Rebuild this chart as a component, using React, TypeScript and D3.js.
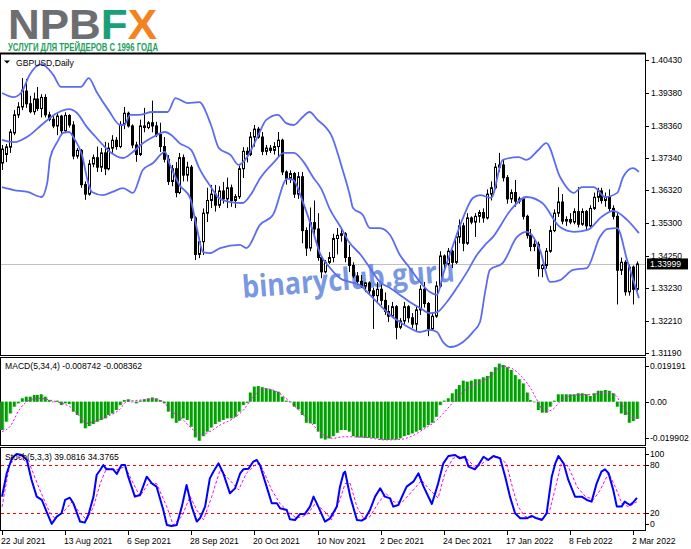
import React from 'react';
import * as d3 from 'd3';

const W = 691;
const H = 549;

const tickBars = [0, 16, 32, 48, 64, 80, 96, 112, 128, 144, 160];
const tickLabels = ['22 Jul 2021', '13 Aug 2021', '6 Sep 2021', '28 Sep 2021', '20 Oct 2021', '10 Nov 2021', '2 Dec 2021', '24 Dec 2021', '17 Jan 2022', '8 Feb 2022', '2 Mar 2022'];
const priceTicks = ['1.40430', '1.39380', '1.38360', '1.37340', '1.36320', '1.35300', '1.34250', '1.33230', '1.32210', '1.31190'];
const lastPrice = 1.33999;
const macdTicks = ['0.019191', '0.00', '-0.019902'];
const stochTicks = ['100', '80', '20', '0'];
const stochLevels = [80, 20];

// [open, high, low, close]
const ohlc: number[][] = [
  [1.3718, 1.3775, 1.3696, 1.3762], [1.3745, 1.3778, 1.3721, 1.3769], [1.3768, 1.3825, 1.3750, 1.3816], [1.3813, 1.3885, 1.3806, 1.3870],
  [1.3870, 1.3910, 1.3860, 1.3895], [1.3895, 1.3986, 1.3885, 1.3948], [1.3945, 1.3983, 1.3892, 1.3905], [1.3905, 1.3930, 1.3875, 1.3880],
  [1.3880, 1.3940, 1.3870, 1.3920], [1.3920, 1.3958, 1.3882, 1.3890], [1.3890, 1.3935, 1.3862, 1.3925], [1.3925, 1.3935, 1.3862, 1.3870],
  [1.3870, 1.3880, 1.3850, 1.3856], [1.3856, 1.3866, 1.3828, 1.3835], [1.3835, 1.3876, 1.3806, 1.3866], [1.3866, 1.3870, 1.3810, 1.3820],
  [1.3820, 1.3878, 1.3815, 1.3868], [1.3868, 1.3872, 1.3830, 1.3838], [1.3838, 1.3850, 1.3730, 1.3740], [1.3740, 1.3765, 1.3732, 1.3758],
  [1.3758, 1.3762, 1.3640, 1.3650], [1.3650, 1.3660, 1.3602, 1.3620], [1.3620, 1.3728, 1.3615, 1.3715], [1.3715, 1.3745, 1.3705, 1.3735],
  [1.3735, 1.3770, 1.3690, 1.3705], [1.3705, 1.3765, 1.3690, 1.3750], [1.3750, 1.3785, 1.3680, 1.3700], [1.3700, 1.3782, 1.3695, 1.3765],
  [1.3765, 1.3806, 1.3750, 1.3790], [1.3790, 1.3800, 1.3760, 1.3770], [1.3770, 1.3850, 1.3765, 1.3840], [1.3840, 1.3895, 1.3825, 1.3875],
  [1.3875, 1.3880, 1.3830, 1.3835], [1.3835, 1.3840, 1.3765, 1.3775], [1.3775, 1.3785, 1.3722, 1.3745], [1.3745, 1.3855, 1.3740, 1.3835],
  [1.3835, 1.3892, 1.3815, 1.3830], [1.3830, 1.3850, 1.3825, 1.3845], [1.3845, 1.3915, 1.3815, 1.3835], [1.3835, 1.3848, 1.3800, 1.3808],
  [1.3808, 1.3845, 1.3753, 1.3770], [1.3770, 1.3800, 1.3720, 1.3730], [1.3730, 1.3743, 1.3649, 1.3660], [1.3660, 1.3712, 1.3645, 1.3700],
  [1.3700, 1.3721, 1.3610, 1.3625], [1.3625, 1.3750, 1.3620, 1.3735], [1.3735, 1.3745, 1.3660, 1.3680], [1.3680, 1.3722, 1.3660, 1.3705],
  [1.3705, 1.3712, 1.3535, 1.3545], [1.3545, 1.3550, 1.3412, 1.3430], [1.3430, 1.3482, 1.3418, 1.3470], [1.3470, 1.3575, 1.3428, 1.3560],
  [1.3560, 1.3640, 1.3532, 1.3600], [1.3600, 1.3649, 1.3576, 1.3620], [1.3620, 1.3649, 1.3565, 1.3585], [1.3585, 1.3645, 1.3576, 1.3630],
  [1.3630, 1.3658, 1.3590, 1.3605], [1.3605, 1.3672, 1.3576, 1.3640], [1.3640, 1.3650, 1.3580, 1.3600], [1.3600, 1.3620, 1.3576, 1.3612],
  [1.3612, 1.3710, 1.3605, 1.3700], [1.3700, 1.3768, 1.3671, 1.3755], [1.3755, 1.3768, 1.3720, 1.3745], [1.3745, 1.3816, 1.3740, 1.3800],
  [1.3800, 1.3838, 1.3770, 1.3825], [1.3825, 1.3832, 1.3795, 1.3800], [1.3800, 1.3816, 1.3743, 1.3755], [1.3755, 1.3775, 1.3743, 1.3765],
  [1.3765, 1.3775, 1.3750, 1.3758], [1.3758, 1.3784, 1.3745, 1.3770], [1.3770, 1.3816, 1.3740, 1.3790], [1.3790, 1.3795, 1.3680, 1.3690],
  [1.3690, 1.3695, 1.3650, 1.3670], [1.3670, 1.3695, 1.3655, 1.3685], [1.3685, 1.3690, 1.3608, 1.3620], [1.3620, 1.3690, 1.3605, 1.3675],
  [1.3675, 1.3690, 1.3465, 1.3505], [1.3505, 1.3515, 1.3425, 1.3450], [1.3450, 1.3578, 1.3440, 1.3530], [1.3530, 1.3600, 1.3490, 1.3510],
  [1.3510, 1.3560, 1.3410, 1.3420], [1.3420, 1.3425, 1.3355, 1.3375], [1.3375, 1.3412, 1.3370, 1.3405], [1.3405, 1.3437, 1.3400, 1.3420],
  [1.3420, 1.3495, 1.3405, 1.3480], [1.3480, 1.3513, 1.3430, 1.3490], [1.3490, 1.3513, 1.3470, 1.3495], [1.3495, 1.3500, 1.3405, 1.3420],
  [1.3420, 1.3460, 1.3374, 1.3395], [1.3395, 1.3405, 1.3355, 1.3362], [1.3362, 1.3374, 1.3333, 1.3345], [1.3345, 1.3365, 1.3324, 1.3330],
  [1.3330, 1.3343, 1.3311, 1.3340], [1.3340, 1.3345, 1.3302, 1.3315], [1.3315, 1.3325, 1.3195, 1.3300], [1.3300, 1.3343, 1.3280, 1.3320],
  [1.3320, 1.3335, 1.3270, 1.3285], [1.3285, 1.3310, 1.3239, 1.3250], [1.3250, 1.3270, 1.3217, 1.3235], [1.3235, 1.3280, 1.3229, 1.3265],
  [1.3265, 1.3270, 1.3162, 1.3200], [1.3200, 1.3229, 1.3194, 1.3220], [1.3220, 1.3280, 1.3210, 1.3265], [1.3265, 1.3270, 1.3215, 1.3230],
  [1.3230, 1.3245, 1.3198, 1.3210], [1.3210, 1.3265, 1.3185, 1.3255], [1.3255, 1.3333, 1.3239, 1.3320], [1.3320, 1.3343, 1.3262, 1.3275],
  [1.3275, 1.3280, 1.3172, 1.3195], [1.3195, 1.3245, 1.3190, 1.3235], [1.3235, 1.3345, 1.3230, 1.3330], [1.3330, 1.3440, 1.3325, 1.3425],
  [1.3425, 1.3430, 1.3385, 1.3400], [1.3400, 1.3450, 1.3395, 1.3440], [1.3440, 1.3445, 1.3387, 1.3405], [1.3405, 1.3495, 1.3400, 1.3485],
  [1.3485, 1.3540, 1.3465, 1.3520], [1.3520, 1.3530, 1.3440, 1.3465], [1.3465, 1.3560, 1.3460, 1.3545], [1.3545, 1.3550, 1.3525, 1.3532],
  [1.3532, 1.3560, 1.3485, 1.3550], [1.3550, 1.3570, 1.3530, 1.3562], [1.3562, 1.3575, 1.3530, 1.3545], [1.3545, 1.3635, 1.3540, 1.3620],
  [1.3620, 1.3660, 1.3600, 1.3640], [1.3640, 1.3718, 1.3635, 1.3705], [1.3705, 1.3750, 1.3690, 1.3712], [1.3712, 1.3730, 1.3660, 1.3672],
  [1.3672, 1.3680, 1.3590, 1.3605], [1.3605, 1.3635, 1.3592, 1.3625], [1.3625, 1.3665, 1.3580, 1.3598], [1.3598, 1.3612, 1.3590, 1.3605],
  [1.3605, 1.3612, 1.3540, 1.3550], [1.3550, 1.3555, 1.3480, 1.3490], [1.3490, 1.3510, 1.3440, 1.3455], [1.3455, 1.3475, 1.3440, 1.3462],
  [1.3462, 1.3470, 1.3360, 1.3385], [1.3385, 1.3400, 1.3358, 1.3395], [1.3395, 1.3450, 1.3385, 1.3440], [1.3440, 1.3520, 1.3435, 1.3505],
  [1.3505, 1.3572, 1.3500, 1.3560], [1.3560, 1.3642, 1.3548, 1.3595], [1.3595, 1.3620, 1.3525, 1.3535], [1.3535, 1.3550, 1.3520, 1.3540],
  [1.3540, 1.3560, 1.3525, 1.3532], [1.3532, 1.3575, 1.3525, 1.3565], [1.3565, 1.3642, 1.3515, 1.3525], [1.3525, 1.3575, 1.3520, 1.3565],
  [1.3565, 1.3570, 1.3505, 1.3520], [1.3520, 1.3585, 1.3510, 1.3575], [1.3575, 1.3625, 1.3570, 1.3610], [1.3610, 1.3640, 1.3595, 1.3630],
  [1.3630, 1.3640, 1.3590, 1.3600], [1.3600, 1.3625, 1.3580, 1.3610], [1.3610, 1.3635, 1.3565, 1.3575], [1.3575, 1.3585, 1.3540, 1.3550],
  [1.3550, 1.3560, 1.3272, 1.3380], [1.3380, 1.3420, 1.3365, 1.3405], [1.3405, 1.3412, 1.3300, 1.3312], [1.3312, 1.3398, 1.3300, 1.3390],
  [1.3390, 1.3395, 1.3272, 1.3320], [1.3320, 1.3408, 1.3315, 1.33999],
];

// Bollinger bands, [bar, price]
const bbUpper = [
  [0, 1.3939], [3, 1.3926], [5, 1.3942], [7, 1.3996], [10, 1.4030], [13, 1.3996], [15, 1.3958], [20, 1.3958], [22, 1.3986], [24, 1.3942],
  [27, 1.3885], [30, 1.3838], [31, 1.3838], [32.5, 1.3870], [35, 1.3870], [38, 1.3879], [42, 1.3879], [44, 1.3923], [47, 1.3907], [50, 1.3910],
  [53, 1.3838], [55, 1.3765], [58, 1.3743], [60, 1.3712], [62, 1.3734], [65, 1.3806], [67, 1.3854], [70, 1.3870], [72, 1.3844], [74, 1.3838],
  [76, 1.3860], [78, 1.3879], [80, 1.3854], [82, 1.3832], [83.5, 1.3806], [86, 1.3712], [88.2, 1.3617], [89, 1.3576], [91.5, 1.3554], [93.3, 1.3513],
  [95.8, 1.3513], [98.4, 1.3491], [100.9, 1.3428], [103.4, 1.3387], [106, 1.3343], [108.5, 1.3311], [110.3, 1.3302], [111.8, 1.3365], [114.4, 1.3460], [116.9, 1.3545],
  [119.4, 1.3608], [121.2, 1.3617], [124, 1.3608], [127, 1.3728], [131, 1.3737], [133, 1.3728], [136, 1.3759], [138, 1.3781], [141.5, 1.3674], [145, 1.3624],
  [147, 1.3642], [150, 1.3642], [153, 1.3611], [156, 1.3624], [157.5, 1.3674], [160, 1.3702], [161.5, 1.3690],
];
const bbMiddle = [
  [0, 1.3791], [3, 1.3784], [7, 1.3806], [10, 1.3838], [14, 1.3876], [17, 1.3888], [19, 1.3876], [21.5, 1.3832], [24, 1.3797], [27.4, 1.3753],
  [30.7, 1.3734], [33.2, 1.3753], [35.8, 1.3781], [38.3, 1.3800], [41.3, 1.3816], [43, 1.3806], [45, 1.3781], [48, 1.3759], [50, 1.3702], [53, 1.3642],
  [55, 1.3608], [58, 1.3595], [61, 1.3592], [63, 1.3617], [65.5, 1.3671], [69, 1.3721], [71.5, 1.3750], [74, 1.3750], [76.5, 1.3721], [79, 1.3671],
  [81, 1.3636], [83, 1.3576], [86, 1.3513], [88, 1.3469], [91, 1.3428], [93.3, 1.3387], [95.8, 1.3343], [98.4, 1.3324], [100.9, 1.3302], [103.4, 1.3280],
  [106, 1.3261], [108.5, 1.3245], [110.3, 1.3248], [112.8, 1.3280], [115.3, 1.3324], [117.9, 1.3374], [120.4, 1.3428], [122.5, 1.3460], [124.5, 1.3485], [129, 1.3570],
  [133, 1.3611], [137, 1.3592], [141.5, 1.3516], [145, 1.3501], [148.5, 1.3507], [152, 1.3548], [155, 1.3567], [158.5, 1.3539], [161.5, 1.3497],
];
const bbLower = [
  [0, 1.3642], [3, 1.3633], [6.5, 1.3627], [10, 1.3611], [11.5, 1.3658], [12.2, 1.3734], [14, 1.3784], [15.5, 1.3813], [17, 1.3816], [18.5, 1.3791],
  [20.3, 1.3743], [21.8, 1.3658], [22.8, 1.3627], [25.6, 1.3617], [28, 1.3627], [30.7, 1.3639], [33.2, 1.3624], [35.7, 1.3696], [38.3, 1.3718], [41.3, 1.3753],
  [42.6, 1.3712], [45, 1.3649], [47.7, 1.3608], [49.4, 1.3513], [51, 1.3437], [52.7, 1.3434], [55.3, 1.3450], [60.3, 1.3460], [62, 1.3450], [65.4, 1.3523],
  [68.7, 1.3554], [72.3, 1.3668], [73.8, 1.3665], [76.3, 1.3595], [78.9, 1.3501], [80.6, 1.3434], [83.2, 1.3387], [85.7, 1.3355], [88.2, 1.3343], [90.8, 1.3333],
  [93.3, 1.3302], [95.8, 1.3270], [98.4, 1.3239], [100.9, 1.3217], [103.4, 1.3198], [106, 1.3185], [108.5, 1.3192], [110.3, 1.3185], [111.8, 1.3154], [113.6, 1.3138],
  [116.9, 1.3154], [119.4, 1.3185], [121.2, 1.3217], [122.5, 1.3311], [123.7, 1.3381], [127, 1.3403], [130.6, 1.3485], [133.1, 1.3501], [136.4, 1.3444], [139, 1.3343],
  [141.5, 1.3349], [144.8, 1.3381], [148.3, 1.3387], [151.6, 1.3485], [153.4, 1.3510], [156, 1.3513], [158.5, 1.3412], [161.5, 1.3292],
];

// MACD(5,34,4) histogram, one value per bar
const macdHist = [
  -0.0143, -0.0101, -0.0059, -0.0025, -0.0008, 0.0017, 0.0025, 0.0025, 0.0034, 0.0034, 0.0037, 0.0025, 0.0008, -0.0002, 0.0005, -0.0017,
  -0.0008, -0.0012, -0.0050, -0.0067, -0.0109, -0.0134, -0.0123, -0.0113, -0.0101, -0.0092, -0.0084, -0.0067, -0.0059, -0.0042, -0.0017, 0.0008,
  0.0012, -0.0002, -0.0008, 0.0005, 0.0012, 0.0017, 0.0021, 0.0017, 0.0008, -0.0008, -0.0050, -0.0084, -0.0106, -0.0096, -0.0084, -0.0092,
  -0.0126, -0.0180, -0.0197, -0.0174, -0.0151, -0.0130, -0.0113, -0.0101, -0.0092, -0.0084, -0.0084, -0.0076, -0.0050, -0.0017, -0.0005, 0.0046,
  0.0076, 0.0079, 0.0073, 0.0067, 0.0063, 0.0055, 0.0050, 0.0025, 0.0005, -0.0002, -0.0025, -0.0038, -0.0067, -0.0106, -0.0109, -0.0113,
  -0.0151, -0.0185, -0.0191, -0.0185, -0.0174, -0.0157, -0.0143, -0.0143, -0.0151, -0.0174, -0.0180, -0.0180, -0.0182, -0.0182, -0.0184, -0.0185,
  -0.0191, -0.0193, -0.0193, -0.0191, -0.0191, -0.0185, -0.0174, -0.0168, -0.0160, -0.0151, -0.0143, -0.0130, -0.0118, -0.0106, -0.0076, -0.0017,
  0.0005, 0.0017, 0.0042, 0.0063, 0.0084, 0.0106, 0.0101, 0.0106, 0.0113, 0.0113, 0.0123, 0.0130, 0.0151, 0.0174, 0.0192, 0.0185,
  0.0174, 0.0160, 0.0134, 0.0113, 0.0092, 0.0046, 0.0008, -0.0002, -0.0042, -0.0055, -0.0055, -0.0025, 0.0005, 0.0037, 0.0037, 0.0037,
  0.0037, 0.0037, 0.0042, 0.0042, 0.0037, 0.0029, 0.0042, 0.0055, 0.0055, 0.0059, 0.0055, 0.0042, -0.0025, -0.0059, -0.0067, -0.0106,
  -0.0098, -0.0087,
];
const macdSignal = [
  [0, -0.0151], [2, -0.0126], [4.6, -0.0034], [7.1, 0.0008], [9.6, 0.0017], [12.2, 0.0008], [14.7, -0.0005], [17.2, -0.0025], [19.8, -0.0076], [21.5, -0.0109],
  [23.2, -0.0101], [26.5, -0.0076], [29.9, -0.0038], [31.6, 0.0000], [35, 0.0008], [38.4, 0.0012], [40.9, 0.0000], [42.6, -0.0042], [45.1, -0.0076], [48.5, -0.0143],
  [50.2, -0.0168], [52.7, -0.0151], [55.3, -0.0118], [58.7, -0.0084], [61.2, -0.0042], [63.7, 0.0025], [66.3, 0.0067], [69.7, 0.0050], [73, 0.0000], [75.6, -0.0050],
  [78.1, -0.0101], [81.5, -0.0168], [84, -0.0185], [86.6, -0.0177], [92, -0.0180], [97.1, -0.0193], [100.9, -0.0191], [103.9, -0.0174], [107.3, -0.0134], [109.8, -0.0101],
  [112.3, -0.0050], [114.9, 0.0008], [117.4, 0.0059], [120.8, 0.0092], [124.2, 0.0134], [126.8, 0.0180], [129.3, 0.0168], [131.8, 0.0126], [134.3, 0.0059], [135.9, 0.0000],
  [137.6, -0.0050], [139.4, -0.0042], [141.9, 0.0008], [145.3, 0.0034], [149.5, 0.0037], [153.8, 0.0046], [155.5, 0.0034], [157.2, -0.0017], [159.7, -0.0080], [161, -0.0084],
];

// Stochastic(5,3,3), [bar, value]
const stochMain = [
  [0, 40.7], [1.2, 69.7], [2.5, 88.3], [3.7, 93.7], [5, 92.4], [6.3, 86.2], [7.5, 61.4], [8.8, 40.7], [10.1, 36.6], [11.3, 22.1],
  [12.6, 6.8], [13.9, 15.9], [15.1, 20], [16, 36.6], [17.2, 39.4], [18.1, 32.4], [19.8, 9.7], [21, 8.4], [21.9, 17.9], [23.2, 40.7],
  [24, 67.6], [24.9, 73.8], [25.7, 80], [26.5, 74.6], [28.2, 74.6], [29.1, 68.8], [30.3, 80], [31.2, 80], [32, 65.5], [33.7, 40.7],
  [35, 42.8], [36.7, 65.5], [38, 57.2], [39.2, 53.1], [40.9, 24.1], [41.8, 5.5], [43, 4.3], [44.3, 5.5], [45.6, 28.3], [46.8, 55.2],
  [48.1, 28.3], [49.4, 9.7], [50.2, 13.8], [51.5, 28.3], [52.7, 63.4], [53.6, 71.7], [54.9, 82.1], [56.1, 69.7], [57.8, 44.8], [59.1, 51],
  [60.4, 69.7], [61.2, 74.6], [62.5, 75.4], [63.7, 84.1], [64.6, 86.2], [65.4, 80], [67.1, 53.1], [68.4, 32.4], [69.7, 32.4], [70.5, 26.2],
  [72.2, 24.1], [73, 12.6], [74.3, 11.7], [75.6, 19.2], [76.8, 19.2], [78.1, 28.3], [79, 40.7], [80.2, 28.3], [81.9, 9.7], [83.2, 13.8],
  [84.9, 28.3], [85.7, 53.1], [86.6, 69.7], [87, 71.7], [88.3, 40.7], [90, 11.7], [91.2, 10.9], [92.1, 13.8], [93.3, 24.1], [94.6, 40.7],
  [95.9, 51], [97.1, 40.7], [98.4, 38.6], [99.2, 28.3], [100.5, 30.3], [101.8, 44.8], [102.6, 53.1], [104.3, 59.3], [105.6, 69.7], [106.9, 53.1],
  [109, 31.6], [110.6, 57.2], [111.9, 82.1], [113.2, 91.2], [114.9, 92.4], [116.1, 88.3], [117.4, 90.3], [118.3, 77.9], [119.9, 74.6], [120.8, 80],
  [122.1, 90.3], [123.3, 86.2], [124.6, 91.2], [126.3, 88.3], [127.6, 65.5], [128.8, 40.7], [130.1, 20], [131.4, 13.8], [133.1, 13.8], [134.3, 16.7],
  [135.6, 13.8], [136.9, 11.7], [138.1, 20], [139.4, 65.5], [140.3, 82.1], [141.1, 91.2], [142.4, 82.1], [143.6, 61.4], [145.3, 40.7], [147, 40.7],
  [148.3, 36.6], [149.5, 34.5], [150.8, 57.2], [152, 71.7], [152.9, 74.6], [153.8, 69.7], [155, 49], [155.9, 28.3], [157.1, 28.3], [157.9, 34.5],
  [159.2, 30.3], [160, 33.3], [161, 39.08],
];
const stochSignal = [
  [0, 28], [2, 82], [4.6, 90], [7.1, 80], [9.6, 49], [12.2, 20], [13.4, 14], [16, 24], [17.7, 34], [19.8, 20],
  [21.5, 12], [23.2, 28], [24.9, 57], [26.5, 76], [29.1, 74], [31.2, 78], [33.3, 57], [35, 41], [37.1, 57], [39.2, 57],
  [41.8, 28], [43.4, 5.5], [45.6, 16], [47.7, 41], [49.4, 24], [51.1, 12], [53.2, 41], [55.3, 74], [57.8, 61], [60, 49],
  [62, 70], [64.6, 82], [65.8, 78], [68.4, 49], [70.5, 32], [73, 20], [74.7, 14], [77.3, 18], [79.4, 32], [81.5, 24],
  [83.6, 12], [85.7, 37], [87, 57], [88.3, 57], [90, 28], [91.9, 12], [93.3, 16], [95.3, 32], [97.3, 45], [99.4, 34],
  [101.5, 34], [104.3, 49], [106.4, 61], [108.5, 49], [110.6, 39], [112.3, 70], [114.3, 88], [116.1, 91], [118.3, 86], [119.9, 77],
  [121.3, 80], [123.3, 88], [125.8, 90], [127.9, 82], [129.6, 49], [130.9, 28], [132.6, 16], [135.1, 14], [137.1, 13], [138.9, 24],
  [140.6, 57], [141.9, 84], [143.6, 78], [145.8, 53], [147.9, 41], [150, 37], [151.7, 49], [153.8, 70], [155.5, 53], [157.2, 32],
  [158.9, 28], [161, 34.38],
];

const FONT = "'Liberation Sans', Arial, sans-serif";
const PR = 645; // right edge of panels

export default function App() {
  const x = d3.scaleLinear().domain([0, 160]).range([2, 633]);
  const yP = d3.scaleLinear().domain([1.3119, 1.4043]).range([353, 60]);
  const yM = d3.scaleLinear().domain([-0.019902, 0.019191]).range([441.1, 363.7]);
  const yS = d3.scaleLinear().domain([0, 100]).range([529.4, 448.9]);

  const bandLine = d3.line<number[]>().x((d) => x(d[0])).y((d) => yP(d[1])).curve(d3.curveMonotoneX);
  const macdLine = d3.line<number[]>().x((d) => x(d[0])).y((d) => yM(d[1])).curve(d3.curveMonotoneX);
  const stochLine = d3.line<number[]>().x((d) => x(d[0])).y((d) => yS(d[1]));

  const macdLabelY = [366, yM(0), 438.3];
  const stochLabelY = [454, yS(80), yS(20), 523.5];
  const bandColor = '#5c6cf2';

  return (
    <svg width={W} height={H} style={{ position: 'absolute', left: 0, top: 0, background: '#fff' }} fontFamily={FONT}>
      <rect x={0} y={0} width={W} height={H} fill="#fff" />
      {/* logo */}
      <text x={8} y={38.5} fontSize={43} fontWeight="bold" textLength={149} lengthAdjust="spacingAndGlyphs">
        <tspan fill="#6d6e71">NPB</tspan>
        <tspan fill="#1aa079">F</tspan>
        <tspan fill="#f4821f">X</tspan>
      </text>
      <text x={8} y={51} fontSize={10} fontWeight="bold" fill="#21a05c" textLength={150} lengthAdjust="spacingAndGlyphs">
        УСЛУГИ ДЛЯ ТРЕЙДЕРОВ С 1996 ГОДА
      </text>

      {/* panels */}
      <line x1={0} x2={PR + 0.5} y1={53.5} y2={53.5} stroke="#000" strokeWidth={2} />
      <rect x={0.5} y={53.5} width={PR} height={302} fill="none" stroke="#000" />
      <rect x={0.5} y={357.5} width={PR} height={88} fill="none" stroke="#000" />
      <rect x={0.5} y={447.5} width={PR} height={83} fill="none" stroke="#000" />

      {/* price axis */}
      {priceTicks.map((t) => (
        <g key={t}>
          <line x1={PR + 0.5} x2={PR + 4} y1={Math.round(yP(+t)) + 0.5} y2={Math.round(yP(+t)) + 0.5} stroke="#000" />
          <text x={651} y={yP(+t) + 3} fontSize={8.6} fill="#000">{t}</text>
        </g>
      ))}

      {/* current price line */}
      <line x1={1} x2={PR} y1={Math.round(yP(lastPrice)) + 0.5} y2={Math.round(yP(lastPrice)) + 0.5} stroke="#c0c0c0" />

      {/* watermark */}
      <text x={243} y={298} fontSize={31} fontWeight="bold" fill="#5f86dc" fillOpacity={0.85}
        fontFamily="'Open Sans', 'DejaVu Sans', sans-serif" textLength={213} lengthAdjust="spacingAndGlyphs"
        transform="rotate(-4.5 243 298)">binaryclub.guru</text>

      {/* candles */}
      {ohlc.map((d, i) => {
        const [o, h, l, c] = d;
        const cx = Math.round(x(i));
        const top = yP(Math.max(o, c));
        const bot = yP(Math.min(o, c));
        const bull = c >= o;
        return (
          <g key={i}>
            <line x1={cx + 0.5} x2={cx + 0.5} y1={yP(h)} y2={yP(l)} stroke="#000" />
            <rect x={cx - 0.5} y={top} width={2} height={Math.max(bot - top, 0.6)} fill={bull ? '#fff' : '#000'} stroke="#000" strokeWidth={1} />
          </g>
        );
      })}

      {/* bollinger bands */}
      {[bbUpper, bbMiddle, bbLower].map((b, k) => (
        <path key={k} d={bandLine(b) || ''} fill="none" stroke={bandColor} strokeWidth={1.8} />
      ))}

      {/* last price box */}
      <rect x={647} y={yP(lastPrice) - 5.5} width={41} height={11} fill="#000" />
      <text x={650} y={yP(lastPrice) + 3} fontSize={8.6} fill="#fff">{lastPrice.toFixed(5)}</text>

      <path d="M4,60.5 L10,60.5 L7,63.5 Z" fill="#000" />
      <text x={16} y={66} fontSize={8.6} fill="#000">GBPUSD,Daily</text>

      {/* MACD */}
      {macdHist.map((v, i) => {
        const cx = Math.round(x(i));
        const y0 = yM(0);
        const y1 = yM(v);
        const top = Math.min(y0, y1);
        const hgt = Math.max(Math.abs(y1 - y0), 0.5);
        return (
          <g key={i}>
            <rect x={cx - 1.5} y={top} width={4} height={hgt} fill="#9ad99a" />
            <rect x={cx - 1} y={top} width={2.6} height={hgt} fill="#00a000" />
          </g>
        );
      })}
      <path d={macdLine(macdSignal) || ''} fill="none" stroke="#ff00ff" strokeWidth={1} strokeDasharray="2,2" />
      {macdTicks.map((t, k) => (
        <g key={t}>
          <line x1={PR + 0.5} x2={PR + 4} y1={Math.round(macdLabelY[k]) + 0.5} y2={Math.round(macdLabelY[k]) + 0.5} stroke="#000" />
          <text x={650} y={macdLabelY[k] + 3} fontSize={8.6} fill="#000">{t}</text>
        </g>
      ))}
      <text x={5} y={369} fontSize={8.6} fill="#000">MACD(5,34,4) -0.008742 -0.008362</text>

      {/* Stochastic */}
      {stochLevels.map((lv) => (
        <line key={lv} x1={1} x2={PR} y1={Math.round(yS(lv)) + 0.5} y2={Math.round(yS(lv)) + 0.5} stroke="#ff0000" strokeDasharray="3,3" />
      ))}
      <path d={stochLine(stochSignal) || ''} fill="none" stroke="#ff00ff" strokeWidth={1} strokeDasharray="3,2" />
      <path d={stochLine(stochMain) || ''} fill="none" stroke="#0000ff" strokeWidth={2} strokeLinejoin="round" />
      {stochTicks.map((t, k) => (
        <g key={t}>
          <line x1={PR + 0.5} x2={PR + 4} y1={Math.round(stochLabelY[k]) + 0.5} y2={Math.round(stochLabelY[k]) + 0.5} stroke="#000" />
          <text x={650} y={stochLabelY[k] + 3} fontSize={8.6} fill="#000">{t}</text>
        </g>
      ))}
      <text x={5} y={460} fontSize={8.6} fill="#000">Stoch(5,3,3) 39.0816 34.3765</text>

      {/* date axis */}
      {tickBars.map((b, k) => (
        <g key={b}>
          <line x1={Math.round(x(b)) + 0.5} x2={Math.round(x(b)) + 0.5} y1={531} y2={535} stroke="#000" />
          <text x={Math.round(x(b)) - 1} y={544} fontSize={8.6} fill="#000">{tickLabels[k]}</text>
        </g>
      ))}
    </svg>
  );
}
